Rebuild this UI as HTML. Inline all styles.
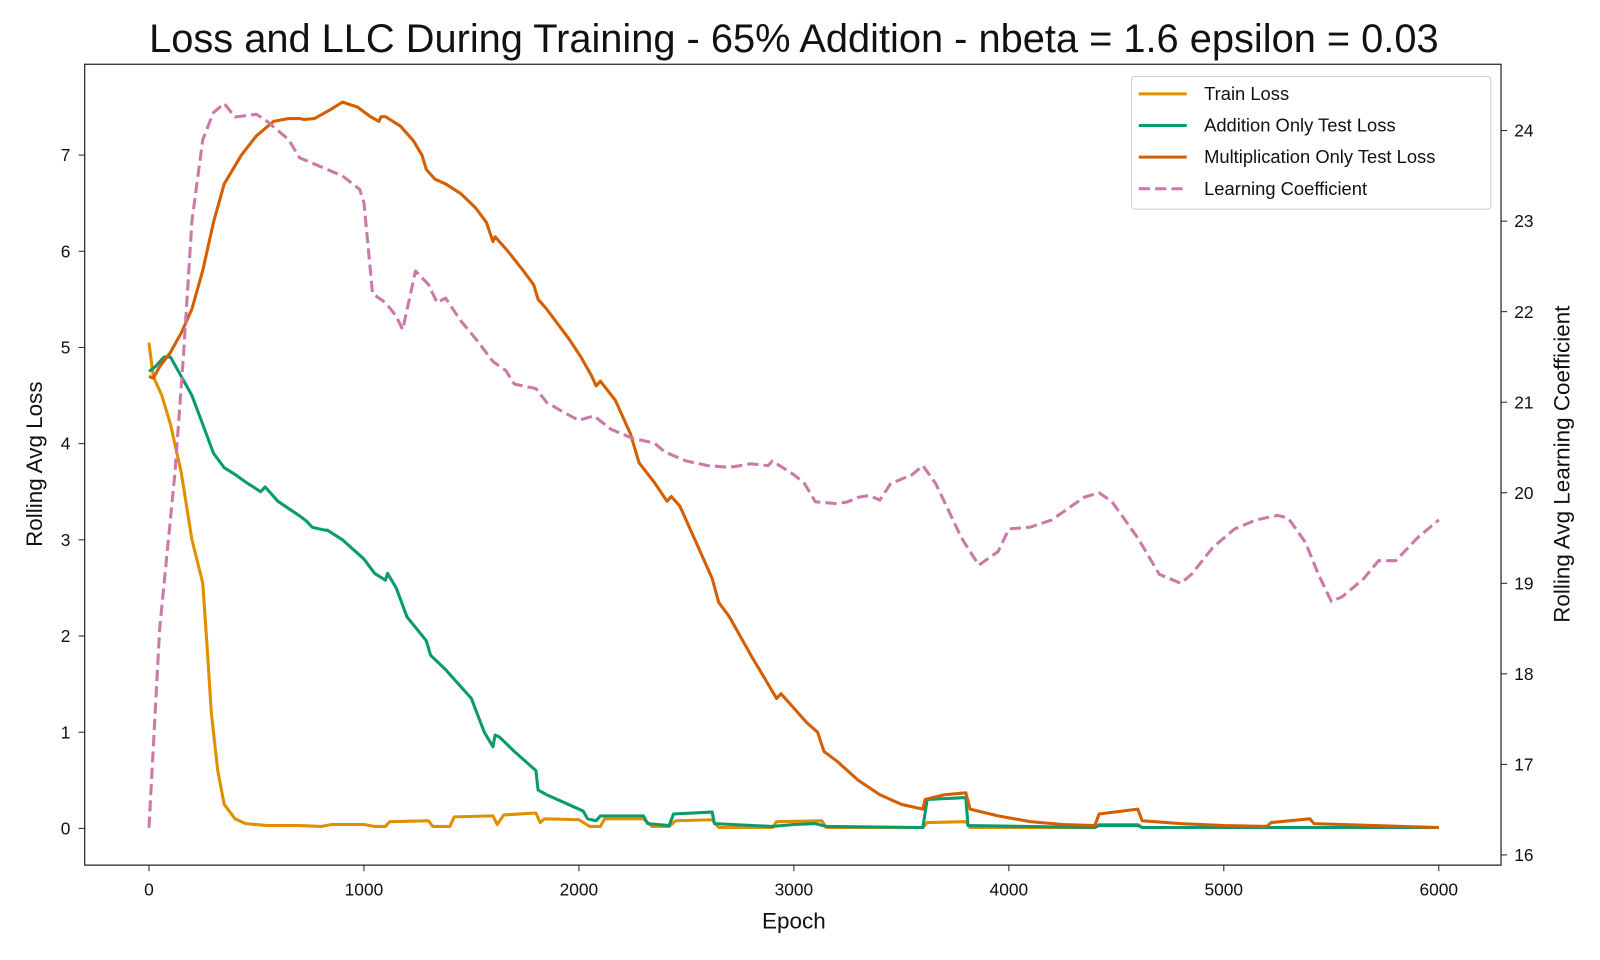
<!DOCTYPE html>
<html><head><meta charset="utf-8"><style>
html,body{margin:0;padding:0;background:#fff}
svg{display:block;font-family:"Liberation Sans",Arial,sans-serif}
</style></head><body>
<svg id="chart" width="1600" height="960" viewBox="0 0 1568 941" preserveAspectRatio="none">
<text x="778" y="51" font-size="39" text-anchor="middle" fill="#111">Loss and LLC During Training - 65% Addition - nbeta = 1.6 epsilon = 0.03</text>
<g id="plot"></g>
<rect x="83" y="63" width="1388" height="785" fill="none" stroke="#222" stroke-width="1.2"/>
<text x="778" y="910" font-size="22" text-anchor="middle" fill="#111">Epoch</text>
<text transform="translate(41,455) rotate(-90)" font-size="22" text-anchor="middle" fill="#111">Rolling Avg Loss</text>
<text transform="translate(1538,455) rotate(-90)" font-size="22" text-anchor="middle" fill="#111">Rolling Avg Learning Coefficient</text>
<g>
<rect x="1109" y="75" width="352" height="130" fill="#fff" fill-opacity="0.85" stroke="#ccc" rx="3"/>
<line x1="1116" y1="92" x2="1163" y2="92" stroke="#E08F00" stroke-width="3"/>
<text x="1180" y="98" font-size="18" fill="#111">Train Loss</text>
<line x1="1116" y1="123" x2="1163" y2="123" stroke="#0A9A70" stroke-width="3"/>
<text x="1180" y="129" font-size="18" fill="#111">Addition Only Test Loss</text>
<line x1="1116" y1="154" x2="1163" y2="154" stroke="#D55E00" stroke-width="3"/>
<text x="1180" y="160" font-size="18" fill="#111">Multiplication Only Test Loss</text>
<line x1="1116" y1="185" x2="1163" y2="185" stroke="#CC79A7" stroke-width="3" stroke-dasharray="11,5"/>
<text x="1180" y="191" font-size="18" fill="#111">Learning Coefficient</text>
</g>
</svg>
<script>
const xTicks=[0,1000,2000,3000,4000,5000,6000];
const yTicks=[0,1,2,3,4,5,6,7];
const y2Ticks=[16,17,18,19,20,21,22,23,24];
const trainEpochs=[0,20,60,100,150,200,250,270,290,320,350,400,450,550,700,800,850,1000,1050,1100,1120,1300,1320,1400,1420,1600,1620,1650,1800,1820,1840,2000,2050,2100,2120,2300,2340,2420,2450,2620,2650,2900,2920,3130,3150,3600,3620,3800,3820,4400,4420,4600,4620,6000];
const trainLoss=[5.05,4.7,4.5,4.2,3.7,3.0,2.55,1.9,1.2,0.6,0.25,0.1,0.05,0.03,0.03,0.02,0.04,0.04,0.02,0.02,0.07,0.08,0.02,0.02,0.12,0.13,0.04,0.14,0.16,0.06,0.1,0.09,0.02,0.02,0.1,0.1,0.02,0.02,0.08,0.09,0.01,0.01,0.07,0.08,0.01,0.01,0.06,0.07,0.01,0.01,0.04,0.04,0.01,0.01];
const addEpochs=[0,30,70,100,150,200,250,300,350,400,450,520,540,600,700,730,760,820,830,900,1000,1050,1100,1110,1150,1200,1290,1310,1380,1400,1500,1560,1600,1610,1630,1700,1800,1810,1850,1950,2020,2040,2080,2100,2300,2320,2420,2440,2620,2630,2900,3000,3100,3150,3600,3620,3800,3810,4400,4420,4600,4620,6000];
const addLoss=[4.75,4.8,4.9,4.9,4.7,4.5,4.2,3.9,3.75,3.68,3.6,3.5,3.55,3.4,3.25,3.2,3.13,3.1,3.1,3.0,2.8,2.65,2.58,2.65,2.5,2.2,1.95,1.8,1.65,1.6,1.35,1.0,0.85,0.97,0.95,0.8,0.6,0.4,0.35,0.25,0.18,0.1,0.08,0.13,0.13,0.05,0.03,0.15,0.17,0.05,0.02,0.04,0.05,0.02,0.01,0.3,0.32,0.03,0.01,0.03,0.03,0.01,0.01];
const mulEpochs=[0,20,50,100,150,200,250,300,350,430,500,580,650,700,720,770,850,900,970,1030,1070,1080,1100,1170,1230,1270,1290,1330,1380,1450,1520,1570,1600,1610,1670,1740,1790,1810,1850,1950,2010,2060,2080,2100,2170,2240,2280,2350,2410,2430,2470,2560,2620,2650,2700,2800,2880,2920,2940,2980,3060,3110,3140,3200,3300,3400,3500,3600,3610,3700,3800,3820,3950,4100,4250,4400,4420,4600,4620,4800,5000,5200,5220,5400,5420,5700,6000];
const mulLoss=[4.7,4.68,4.8,4.95,5.15,5.4,5.8,6.3,6.7,7.0,7.2,7.35,7.38,7.38,7.37,7.38,7.48,7.55,7.5,7.4,7.35,7.4,7.4,7.3,7.15,7.0,6.85,6.75,6.7,6.6,6.45,6.3,6.1,6.15,6.0,5.8,5.65,5.5,5.4,5.1,4.9,4.7,4.6,4.65,4.45,4.1,3.8,3.6,3.4,3.45,3.35,2.9,2.6,2.35,2.2,1.8,1.5,1.35,1.4,1.3,1.1,1.0,0.8,0.7,0.5,0.35,0.25,0.2,0.3,0.35,0.37,0.2,0.13,0.07,0.04,0.03,0.15,0.2,0.08,0.05,0.03,0.02,0.06,0.1,0.05,0.03,0.01];
const llcEpochs=[0,50,120,160,200,250,300,350,400,500,550,650,700,800,900,980,1000,1040,1100,1150,1180,1240,1300,1340,1380,1450,1520,1600,1660,1700,1800,1850,1920,2000,2070,2150,2250,2350,2400,2450,2500,2600,2700,2800,2880,2900,3000,3050,3100,3200,3250,3300,3350,3400,3450,3550,3600,3660,3720,3780,3860,3950,4000,4100,4200,4350,4420,4480,4600,4700,4800,4850,4950,5050,5150,5250,5300,5380,5440,5500,5550,5650,5720,5800,5900,6000];
const llcValues=[16.3,18.5,20.2,21.5,23.0,23.9,24.2,24.3,24.15,24.18,24.1,23.9,23.7,23.6,23.5,23.35,23.2,22.2,22.1,21.95,21.8,22.45,22.3,22.1,22.15,21.9,21.7,21.45,21.35,21.2,21.15,21.0,20.9,20.8,20.85,20.7,20.6,20.55,20.45,20.4,20.35,20.3,20.28,20.32,20.3,20.35,20.2,20.1,19.9,19.88,19.9,19.95,19.97,19.92,20.1,20.2,20.3,20.1,19.8,19.5,19.2,19.35,19.6,19.62,19.7,19.95,20.0,19.9,19.5,19.1,19.0,19.1,19.4,19.6,19.7,19.75,19.72,19.45,19.1,18.8,18.85,19.05,19.25,19.25,19.5,19.7];

const X=v=>146+v*(1410-146)/6000;
const Y=v=>812-v*(812-152)/7;
const Y2=v=>838-(v-16)*(838-128)/8;
const NS="http://www.w3.org/2000/svg";
const g=document.getElementById('plot');
function mk(tag,attrs){const e=document.createElementNS(NS,tag);for(const k in attrs)e.setAttribute(k,attrs[k]);g.appendChild(e);return e;}

xTicks.forEach(t=>{
  const l=mk('line',{x1:X(t),x2:X(t),y1:848,y2:854,stroke:'#222'});
  
  
  const tx=mk('text',{x:X(t),y:878,'font-size':17,'text-anchor':'middle',fill:'#111'});
  tx.textContent=t;
  
  
});
yTicks.forEach(t=>{
  const l=mk('line',{x1:77,x2:83,y1:Y(t),y2:Y(t),stroke:'#222'});
  
  
  const tx=mk('text',{x:69,y:Y(t)+6,'font-size':17,'text-anchor':'end',fill:'#111'});
  tx.textContent=t;
  
  
});
y2Ticks.forEach(t=>{
  const l=mk('line',{x1:1471,x2:1477,y1:Y2(t),y2:Y2(t),stroke:'#222'});
  
  
  const tx=mk('text',{x:1484,y:Y2(t)+6,'font-size':17,'text-anchor':'start',fill:'#111'});
  tx.textContent=t;
  
  
});
function line(xs,ys,yf,color,dash,name){
  const d=xs.map((x,i)=>(i?'L':'M')+X(x).toFixed(1)+','+yf(ys[i]).toFixed(1)).join(' ');
  const p=mk('path',{d:d,fill:'none',stroke:color,'stroke-width':3,'stroke-linejoin':'round'});
  if(dash)p.setAttribute('stroke-dasharray',dash);
  
  
}
line(trainEpochs,trainLoss,Y,'#E08F00',null,'train-loss-line');
line(addEpochs,addLoss,Y,'#0A9A70',null,'addition-loss-line');
line(mulEpochs,mulLoss,Y,'#D55E00',null,'multiplication-loss-line');
line(llcEpochs,llcValues,Y2,'#CC79A7','11,5','learning-coefficient-line');
</script>
</body></html>
